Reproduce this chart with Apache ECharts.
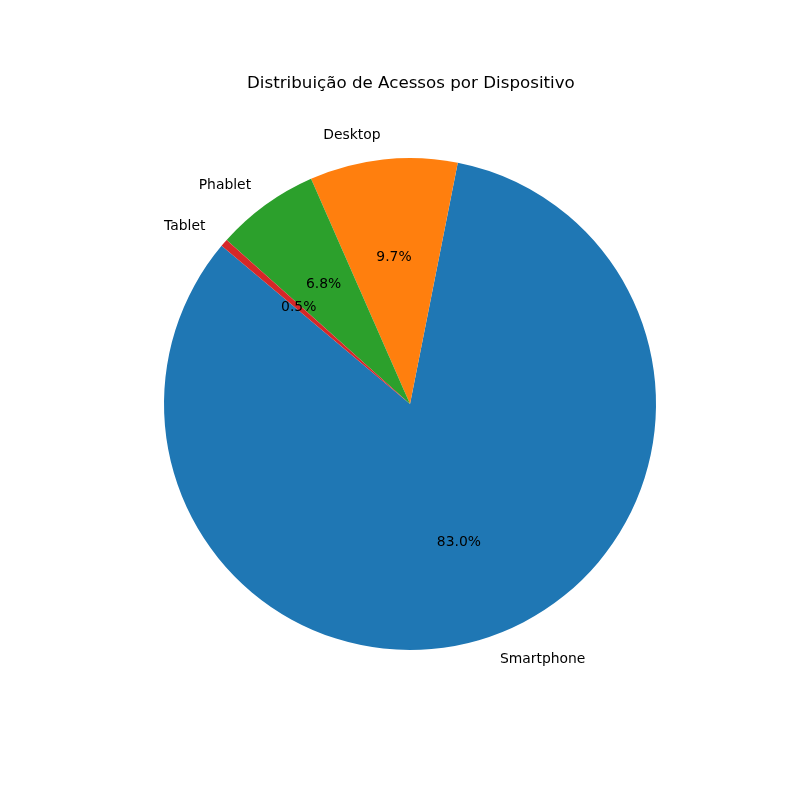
<!DOCTYPE HTML>
<html>
<head>
<meta charset="utf-8" />
<title>Distribuição de Acessos por Dispositivo</title>
<style type="text/css">
	html, body { margin: 0; padding: 0; background: #fff; }
	#chart { width: 800px; height: 800px; }
</style>
</head>
<body>
<div id="chart"></div>
<script src="https://cdn.jsdelivr.net/npm/echarts@6/dist/echarts.min.js"></script>
<script type="text/javascript">
// dados
var devices = ['Smartphone', 'Desktop', 'Phablet', 'Tablet'];
var shares = [83.0, 9.7, 6.8, 0.5];
var colors = ['#1f77b4', '#ff7f0e', '#2ca02c', '#d62728'];

var R = 246;          // raio da pizza em px
var START = 140;      // angulo inicial, sentido anti-horario
var FONT = 'DejaVu Sans';

var pieData = devices.map(function(d, i) {
	return { name: d, value: shares[i], itemStyle: { color: colors[i] } };
});

var ghostData = devices.map(function(d, i) {
	return { name: d, value: shares[i] };
});

var chart = echarts.init(document.getElementById('chart'));
var base = {
	type: 'pie',
	center: [410, 404],
	startAngle: START,
	clockwise: false,
	animation: false,
	avoidLabelOverlap: false
};
chart.setOption({
	animation: false,
	title: {
		text: 'Distribuição de Acessos por Dispositivo',
		left: 242,
		top: 70,
		textStyle: { fontFamily: FONT, fontSize: 16.7, fontWeight: 'normal', color: '#000' }
	},
	series: [
		// fatias + nomes a 1.1 R
		Object.assign({}, base, {
			radius: [0, R],
			data: pieData,
			itemStyle: { borderWidth: 0 },
			emphasis: { disabled: true },
			label: {
				show: true, position: 'outside', color: '#000',
				fontFamily: FONT, fontSize: 13.9,
				formatter: '{b}'
			},
			labelLine: { show: false, length: R * 0.1, length2: -5 }
		}),
		// percentuais a 0.6 R
		Object.assign({}, base, {
			radius: [0, R * 1.2 * 0.977],
			data: ghostData,
			silent: true,
			itemStyle: { color: 'transparent', borderWidth: 0 },
			labelLine: { show: false },
			label: {
				show: true, position: 'inner', color: '#000',
				fontFamily: FONT, fontSize: 13.9,
				formatter: function(p) { return p.value.toFixed(1) + '%'; }
			}
		})
	]
});
</script>
</body>
</html>
